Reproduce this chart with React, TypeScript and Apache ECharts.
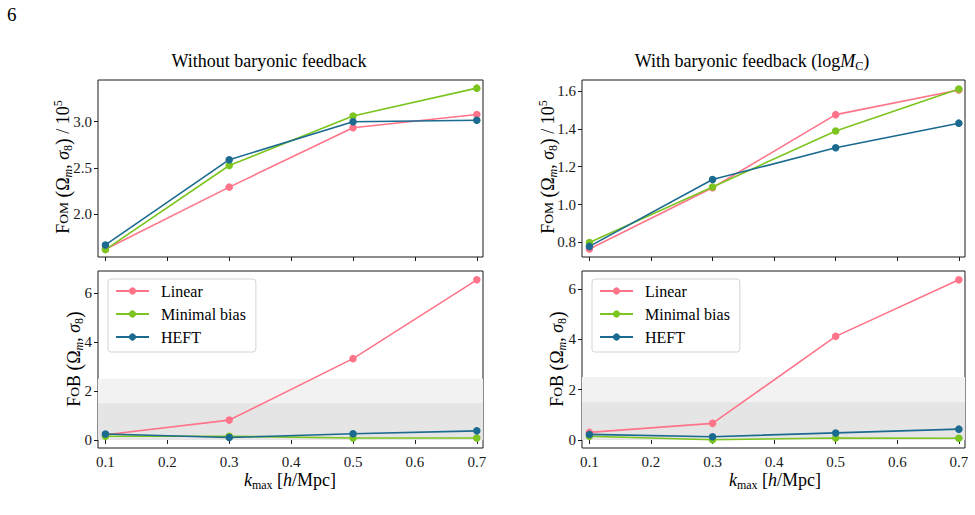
import React, { useEffect, useRef } from 'react';
import * as echarts from 'echarts';

// ---------- data ----------
const kmax = [0.1, 0.3, 0.5, 0.7];
const xTicks = [0.1, 0.2, 0.3, 0.4, 0.5, 0.6, 0.7];
const seriesNames = ['Linear', 'Minimal bias', 'HEFT'];
const colors = ['#ff7489', '#7cc41f', '#1b6a8f'];

// FoM (Omega_m, sigma_8) / 1e5, without baryonic feedback
const fomNoBaryonLinear = [1.624, 2.294, 2.935, 3.078];
const fomNoBaryonMinimal = [1.62, 2.527, 3.061, 3.362];
const fomNoBaryonHEFT = [1.67, 2.59, 3.0, 3.015];
// FoM with baryonic feedback
const fomBaryonLinear = [0.765, 1.089, 1.475, 1.605];
const fomBaryonMinimal = [0.8, 1.093, 1.389, 1.61];
const fomBaryonHEFT = [0.779, 1.132, 1.3, 1.43];
// FoB without baryonic feedback
const fobNoBaryonLinear = [0.21, 0.81, 3.32, 6.54];
const fobNoBaryonMinimal = [0.15, 0.15, 0.08, 0.08];
const fobNoBaryonHEFT = [0.24, 0.1, 0.25, 0.37];
// FoB with baryonic feedback
const fobBaryonLinear = [0.3, 0.66, 4.12, 6.37];
const fobBaryonMinimal = [0.145, 0.01, 0.08, 0.07];
const fobBaryonHEFT = [0.22, 0.13, 0.28, 0.43];

const fomNoBaryonTicks = [2.0, 2.5, 3.0];
const fomBaryonTicks = [0.8, 1.0, 1.2, 1.4, 1.6];
const fobTicks = [0, 2, 4, 6];
const bandOuter = [0, 2.5];
const bandInner = [0, 1.5];

const FONT = "'Liberation Serif', 'Times New Roman', Times, serif";

export default function App() {
  const ref = useRef<HTMLDivElement>(null);

  useEffect(() => {
    if (!ref.current) return;
    const chart = echarts.init(ref.current, null, { renderer: 'svg' });

    const grids = [
      { left: 98, top: 80, width: 385, height: 177 },
      { left: 98, top: 271, width: 385, height: 177 },
      { left: 582, top: 80, width: 383, height: 177 },
      { left: 582, top: 271, width: 383, height: 177 },
    ].map((g) => ({ ...g, show: true, borderColor: '#1a1a1a', borderWidth: 1, backgroundColor: '#fff' }));

    const xAxis = [0, 1, 2, 3].map((i) => {
      const showLabel = i === 1 || i === 3;
      return {
        type: 'value',
        gridIndex: i,
        min: 0.088,
        max: 0.71,
        axisLine: { show: false },
        splitLine: { show: false },
        axisTick: { show: true, customValues: xTicks, length: 4, lineStyle: { color: '#1a1a1a', width: 1 } },
        axisLabel: {
          show: showLabel,
          customValues: xTicks,
          formatter: (v: number) => v.toFixed(1),
          fontFamily: FONT,
          fontSize: 15,
          color: '#1a1a1a',
          margin: 6,
        },
      };
    });

    const yDefs = [
      { min: 1.54, max: 3.45, ticks: fomNoBaryonTicks, fmt: (v: number) => v.toFixed(1) },
      { min: -0.33, max: 6.9, ticks: fobTicks, fmt: (v: number) => String(Math.round(v)) },
      { min: 0.723, max: 1.658, ticks: fomBaryonTicks, fmt: (v: number) => v.toFixed(1) },
      { min: -0.32, max: 6.72, ticks: fobTicks, fmt: (v: number) => String(Math.round(v)) },
    ];
    const yAxis = yDefs.map((d, i) => ({
      type: 'value',
      gridIndex: i,
      min: d.min,
      max: d.max,
      axisLine: { show: false },
      splitLine: { show: false },
      axisTick: { show: true, customValues: d.ticks, length: 4, lineStyle: { color: '#1a1a1a', width: 1 } },
      axisLabel: {
        show: true,
        customValues: d.ticks,
        formatter: d.fmt,
        fontFamily: FONT,
        fontSize: 15,
        color: '#1a1a1a',
        margin: 6,
      },
    }));

    const panelData = [
      [fomNoBaryonLinear, fomNoBaryonMinimal, fomNoBaryonHEFT],
      [fobNoBaryonLinear, fobNoBaryonMinimal, fobNoBaryonHEFT],
      [fomBaryonLinear, fomBaryonMinimal, fomBaryonHEFT],
      [fobBaryonLinear, fobBaryonMinimal, fobBaryonHEFT],
    ];

    const series: any[] = [];
    [1, 3].forEach((gi) => {
      series.push({
        type: 'line',
        xAxisIndex: gi,
        yAxisIndex: gi,
        data: [],
        silent: true,
        z: 1,
        markArea: {
          silent: true,
          data: [
            [{ yAxis: bandOuter[0], itemStyle: { color: '#f2f2f2' } }, { yAxis: bandOuter[1] }],
            [{ yAxis: bandInner[0], itemStyle: { color: '#e5e5e5' } }, { yAxis: bandInner[1] }],
          ],
        },
      });
    });
    panelData.forEach((arrs, gi) => {
      arrs.forEach((vals, si) => {
        series.push({
          name: seriesNames[si],
          type: 'line',
          xAxisIndex: gi,
          yAxisIndex: gi,
          data: kmax.map((k, j) => [k, vals[j]]),
          symbol: 'circle',
          symbolSize: 7.5,
          showSymbol: true,
          z: 3,
          lineStyle: { color: colors[si], width: 1.6 },
          itemStyle: { color: colors[si] },
        });
      });
    });

    const legendBase = {
      orient: 'vertical',
      top: 279,
      itemWidth: 33,
      itemHeight: 9,
      itemGap: 7,
      padding: [4, 10, 7, 7],
      backgroundColor: 'rgba(255,255,255,0.85)',
      borderColor: '#d4d4d4',
      borderWidth: 1,
      borderRadius: 3,
      selectedMode: false,
      textStyle: { fontFamily: FONT, fontSize: 16, lineHeight: 16, color: '#000', padding: [0, 0, 0, 7] },
      data: seriesNames,
    };

    const sub = (size = 12) => ({ fontFamily: FONT, fontSize: size, lineHeight: size, verticalAlign: 'bottom', fill: '#000' });
    const subI = (size = 12) => ({ ...sub(size), fontStyle: 'italic' });
    const it = (size = 18) => ({ fontFamily: FONT, fontSize: size, fontStyle: 'italic', fill: '#000' });
    const rm = (size = 18) => ({ fontFamily: FONT, fontSize: size, fill: '#000' });

    const richY = {
      F: rm(18),
      r: rm(18),
      sc: rm(13.5),
      p: rm(20),
      i: it(18),
      sub: sub(12),
      subi: subI(12),
      sup: { fontFamily: FONT, fontSize: 12, lineHeight: 12, verticalAlign: 'top', fill: '#000' },
    };
    const richX = { i: it(18), r: rm(18), sub: sub(12) };

    const textEl = (x: number, y: number, text: string, rich: any, rotation = 0, fontSize = 18) => ({
      type: 'text',
      x,
      y,
      rotation,
      silent: true,
      style: {
        text,
        rich,
        fontFamily: FONT,
        fontSize,
        lineHeight: 22,
        fill: '#000',
        align: 'center',
        verticalAlign: 'middle',
      },
    });

    const fomLabel = '{F|F}{sc|OM}{r| }{p|(}{r|Ω}{subi|m}{r|, }{i|σ}{sub|8}{p|)}{r| / 10}{sup|5}';
    const fobLabel = '{F|F}{sc|O}{F|B}{r| }{p|(}{r|Ω}{subi|m}{r|, }{i|σ}{sub|8}{p|)}';
    const xLabel = '{i|k}{sub|max}{r| [}{i|h}{r|/Mpc]}';

    const graphic = [
      { type: 'text', x: 7, y: 14, silent: true, style: { text: '6', fontFamily: FONT, fontSize: 19, fill: '#000', align: 'left', verticalAlign: 'middle' } },
      textEl(269, 61, '{r|Without baryonic feedback}', richX),
      textEl(752, 61, '{r|With baryonic feedback (log}{i|M}{sub|C}{r|)}', richX),
      textEl(63, 167, fomLabel, richY, Math.PI / 2),
      textEl(74, 359, fobLabel, richY, Math.PI / 2),
      textEl(548, 167, fomLabel, richY, Math.PI / 2),
      textEl(557, 359, fobLabel, richY, Math.PI / 2),
      textEl(290, 480, xLabel, richX),
      textEl(775, 480, xLabel, richX),
    ];

    chart.setOption({
      animation: false,
      backgroundColor: '#fff',
      textStyle: { fontFamily: FONT },
      grid: grids,
      xAxis,
      yAxis,
      series,
      legend: [
        { ...legendBase, left: 108 },
        { ...legendBase, left: 592 },
      ],
      graphic,
    });

    return () => {
      chart.dispose();
    };
  }, []);

  return (
    <div
      ref={ref}
      style={{ position: 'fixed', left: 0, top: 0, width: 975, height: 515, background: '#fff', fontFamily: FONT }}
    />
  );
}
